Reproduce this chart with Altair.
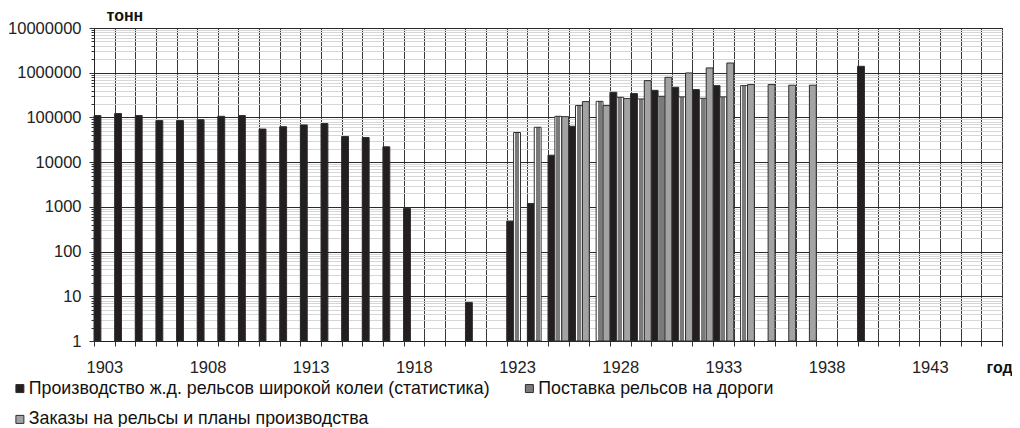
import altair as alt
import pandas as pd

# ---- data ----
years = list(range(1903, 1947))

series_names = [
    "Производство ж.д. рельсов широкой колеи (статистика)",
    "Поставка рельсов на дороги",
    "Заказы на рельсы и планы производства",
]

prod_years = [1903, 1904, 1905, 1906, 1907, 1908, 1909, 1910, 1911, 1912, 1913, 1914,
              1915, 1916, 1917, 1918, 1921, 1923, 1924, 1925, 1926, 1928, 1929, 1930,
              1931, 1932, 1933, 1940]
prod_vals = [110000, 122000, 110000, 85000, 85000, 89000, 106000, 110000, 55000, 62000,
             68000, 73000, 37500, 35500, 22000, 920, 7.3, 480, 1190, 14300, 63400,
             365000, 341000, 404000, 472000, 419000, 514000, 1390000]

deliv_years = [1923, 1924, 1925, 1926, 1927, 1928, 1929, 1930, 1931, 1932, 1933, 1934]
deliv_vals = [46000, 60300, 106000, 184000, 229000, 282000, 259000, 297000, 288000,
              268000, 288000, 514000]

order_years = [1925, 1926, 1927, 1928, 1929, 1930, 1931, 1932, 1933, 1934, 1935, 1936, 1937]
order_vals = [104000, 226000, 184000, 264000, 666000, 789000, 988000, 1280000, 1650000,
              542000, 542000, 525000, 525000]

major_ticks = [1, 10, 100, 1000, 10000, 100000, 1000000, 10000000]
minor_ticks = [m * 10 ** k for k in range(7) for m in range(2, 10)]
y_ticks = sorted(major_ticks + minor_ticks)

rows = []
for yr, v in zip(prod_years, prod_vals):
    rows.append({"year": yr, "v": v, "s": series_names[0]})
for yr, v in zip(deliv_years, deliv_vals):
    rows.append({"year": yr, "v": v, "s": series_names[1]})
for yr, v in zip(order_years, order_vals):
    rows.append({"year": yr, "v": v, "s": series_names[2]})
df = pd.DataFrame(rows)

FONT = "Liberation Sans"
major_test = "indexof([1,10,100,1000,10000,100000,1000000,10000000], datum.value) >= 0"

hatch = {
    "gradient": "linear", "x1": 0, "y1": 0, "x2": 1, "y2": 0,
    "stops": [
        {"offset": 0.0, "color": "#ffffff"},
        {"offset": 0.2, "color": "#ffffff"},
        {"offset": 0.2, "color": "#7a7a7a"},
        {"offset": 0.8, "color": "#7a7a7a"},
        {"offset": 0.8, "color": "#ffffff"},
        {"offset": 1.0, "color": "#ffffff"},
    ],
}

x_axis = alt.Axis(
    title="год",
    titleFont=FONT, titleFontSize=16, titleFontWeight="bold", titleColor="#111",
    titleX=892, titleY=31, titleAlign="left", titleBaseline="alphabetic",
    labelExpr="(datum.value - 1903) % 5 == 0 ? datum.label : ''",
    labelAngle=0, labelFont=FONT, labelFontSize=16.5, labelColor="#222",
    labelPadding=13, labelOverlap=False,
    tickBand="extent", tickSize=5, tickColor="#333",
    grid=True, gridColor="#3a3a3a", gridWidth=1,
    domainColor="#222",
)

y_axis = alt.Axis(
    title="тонн",
    titleAngle=0, titleFont=FONT, titleFontSize=16, titleFontWeight="bold", titleColor="#111",
    titleX=12, titleY=-8, titleAlign="left", titleBaseline="alphabetic",
    values=y_ticks, format="d",
    labelExpr=f"{major_test} ? datum.label : ''",
    labelFont=FONT, labelFontSize=16.5, labelColor="#222", labelPadding=8,
    labelOverlap=False, labelFlush=False,
    tickSize={"condition": {"test": major_test, "value": 5}, "value": 3},
    tickColor="#333",
    grid=True,
    gridColor={"condition": {"test": major_test, "value": "#2a2a2a"}, "value": "#d6d6d6"},
    domainColor="#222",
)

# legend order chosen so that the column-major layout gives A B / C
legend_order = [series_names[0], series_names[2], series_names[1]]
legend_colors = ["#231f20", "#a3a3a6", "#7a7a7a"]

legend = alt.Legend(
    title=None, orient="none", legendX=-83, legendY=351.5,
    columns=2, columnPadding=30.5, rowPadding=12, padding=0,
    symbolType="square", symbolSize=64, symbolStrokeColor="#2e2e2e", symbolStrokeWidth=1,
    labelFont=FONT, labelFontSize=17.8, labelColor="#111", labelLimit=800, labelOffset=0,
)

chart = alt.Chart(df).mark_bar(stroke="#2e2e2e", strokeWidth=1).encode(
    x=alt.X("year:O", scale=alt.Scale(domain=years, paddingInner=0, paddingOuter=0), axis=x_axis),
    xOffset=alt.XOffset("s:N", scale=alt.Scale(domain=series_names, paddingInner=0, paddingOuter=0)),
    y=alt.Y("v:Q", scale=alt.Scale(type="log", domain=[1, 10000000], nice=False), axis=y_axis),
    y2=alt.datum(1),
    fill=alt.condition(
        alt.datum.s == series_names[1],
        alt.value(hatch),
        alt.Fill("s:N", scale=alt.Scale(domain=legend_order, range=legend_colors), legend=legend),
    ),
).properties(
    width=908, height=313,
    autosize=alt.AutoSizeParams(type="none"),
    padding={"left": 86, "top": 20, "right": 10, "bottom": 86},
).configure(font=FONT).configure_view(stroke="#2a2a2a", strokeWidth=1)

chart.save("out.html", embed_options={"renderer": "svg", "actions": False})
